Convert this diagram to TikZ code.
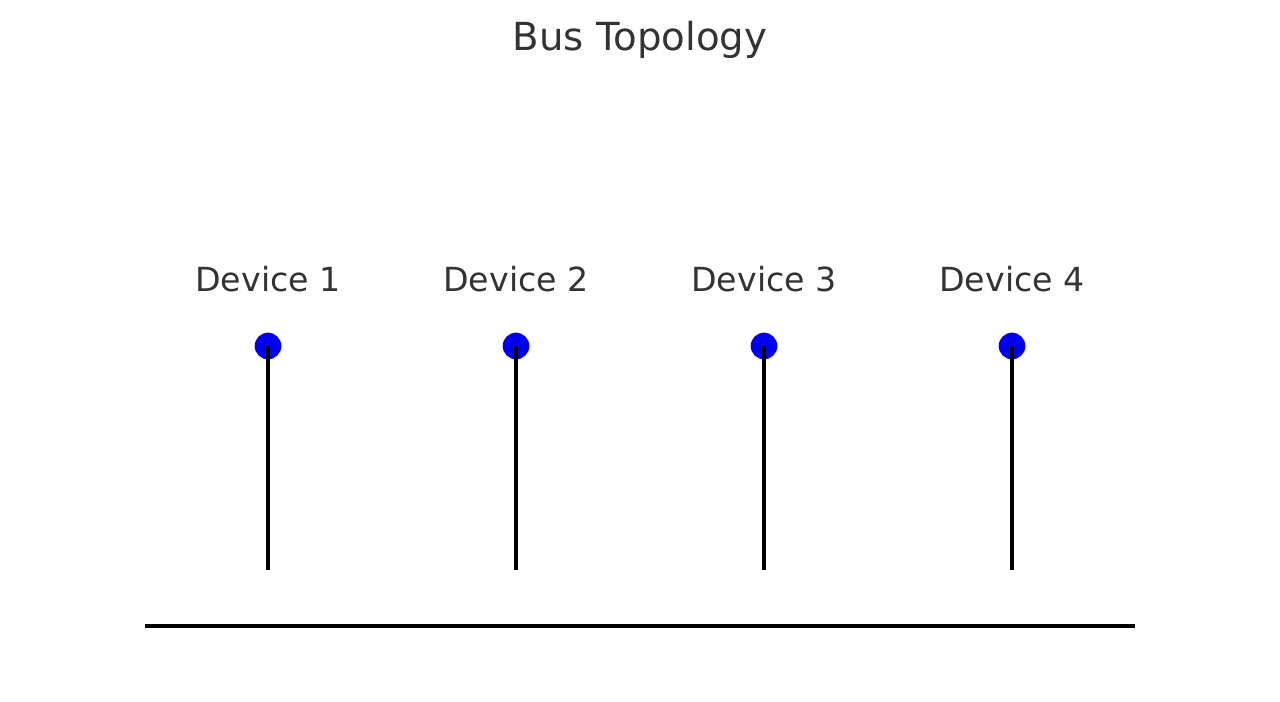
\documentclass[tikz,border=0pt]{standalone}
\usepackage{fontspec}
\setmainfont{DejaVu Sans}
\definecolor{txt}{HTML}{333333}
\definecolor{dev}{HTML}{0000EE}
\begin{document}
\begin{tikzpicture}[x=0.75pt,y=-0.75pt,
  dot/.style={circle,fill=dev,inner sep=0pt,minimum size=20pt},
  lbl/.style={text=txt,font=\fontsize{24.9}{30}\selectfont},
  drop/.style={line width=2.3pt,black},
  busline/.style={line width=3.6pt,black}]
\useasboundingbox (0,0) rectangle (1280,702);
\node[text=txt,font=\fontsize{29}{34}\selectfont] (title) at (640,40) {Bus Topology};
\foreach \i/\x in {1/268,2/516,3/764,4/1012}{
  \node[dot] (d\i) at (\x,346) {};
  \node[lbl] (l\i) at (\x,279) {Device \i};
  \coordinate (e\i) at (\x,570);
  \draw[drop] (d\i.center) -- (e\i);
}
\coordinate (b1) at (145,626);
\coordinate (b2) at (1135,626);
\draw[busline] (b1) -- (b2);
\end{tikzpicture}
\end{document}
